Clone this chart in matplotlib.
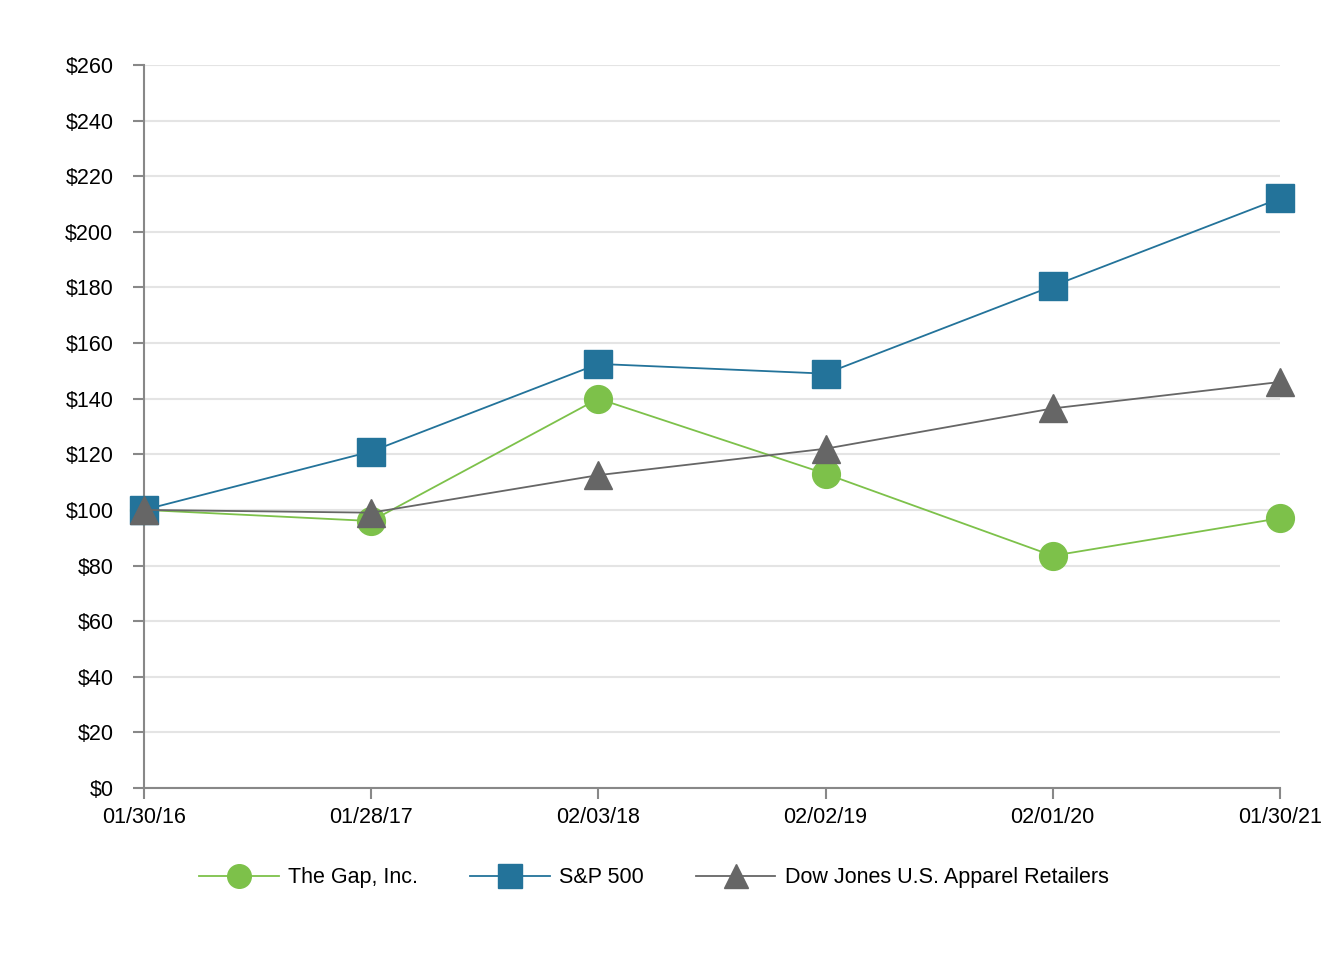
import matplotlib
matplotlib.use("Agg")
import matplotlib.pyplot as plt

plt.rcParams['font.family'] = ['Liberation Sans', 'DejaVu Sans']

dates = ['01/30/16', '01/28/17', '02/03/18', '02/02/19', '02/01/20', '01/30/21']
gap = [100, 96, 140, 113, 83.5, 97]
sp500 = [100, 121, 152.5, 149, 180.5, 212]
dow_apparel = [100, 99, 112.5, 122, 136.5, 146]
y_ticks = list(range(0, 261, 20))

fig = plt.figure(figsize=(13.44, 9.6), dpi=100)
ax = fig.add_axes([0.1071, 0.1792, 0.8452, 0.7531])

x = range(len(dates))
ax.plot(x, gap, '-o', color='#7dc14a', lw=1.3, ms=20, mec='#7dc14a',
        label='The Gap, Inc.', clip_on=False, zorder=3)
ax.plot(x, sp500, '-s', color='#23739a', lw=1.3, ms=19.5, mec='#23739a',
        label='S&P 500', clip_on=False, zorder=3)
ax.plot(x, dow_apparel, '-^', color='#666666', lw=1.3, ms=20, mec='#666666',
        label='Dow Jones U.S. Apparel Retailers', clip_on=False, zorder=4)

ax.set_xlim(0, len(dates) - 1)
ax.set_ylim(0, 260)
ax.set_xticks(list(x))
ax.set_xticklabels(dates)
ax.set_yticks(y_ticks)
ax.set_yticklabels(['$%d' % v for v in y_ticks])
ax.grid(axis='y', color='#e4e4e4', lw=1.5, zorder=0)
ax.set_axisbelow(True)

for s in ['top', 'right']:
    ax.spines[s].set_visible(False)
for s in ['left', 'bottom']:
    ax.spines[s].set_color('#888888')
    ax.spines[s].set_linewidth(1.5)
ax.tick_params(axis='both', colors='#888888', width=1.5, length=8,
               labelsize=15.5, labelcolor='#000000')
ax.tick_params(axis='y', pad=14)
ax.tick_params(axis='x', pad=6)

# legend below the plot, one row
ax.legend(loc='center', bbox_to_anchor=(0.449, -0.124), ncol=3, frameon=False,
          fontsize=15.5, handlelength=3.7, handletextpad=0.45,
          columnspacing=2.4, markerscale=0.85)

fig.savefig('out.png', dpi=100)
